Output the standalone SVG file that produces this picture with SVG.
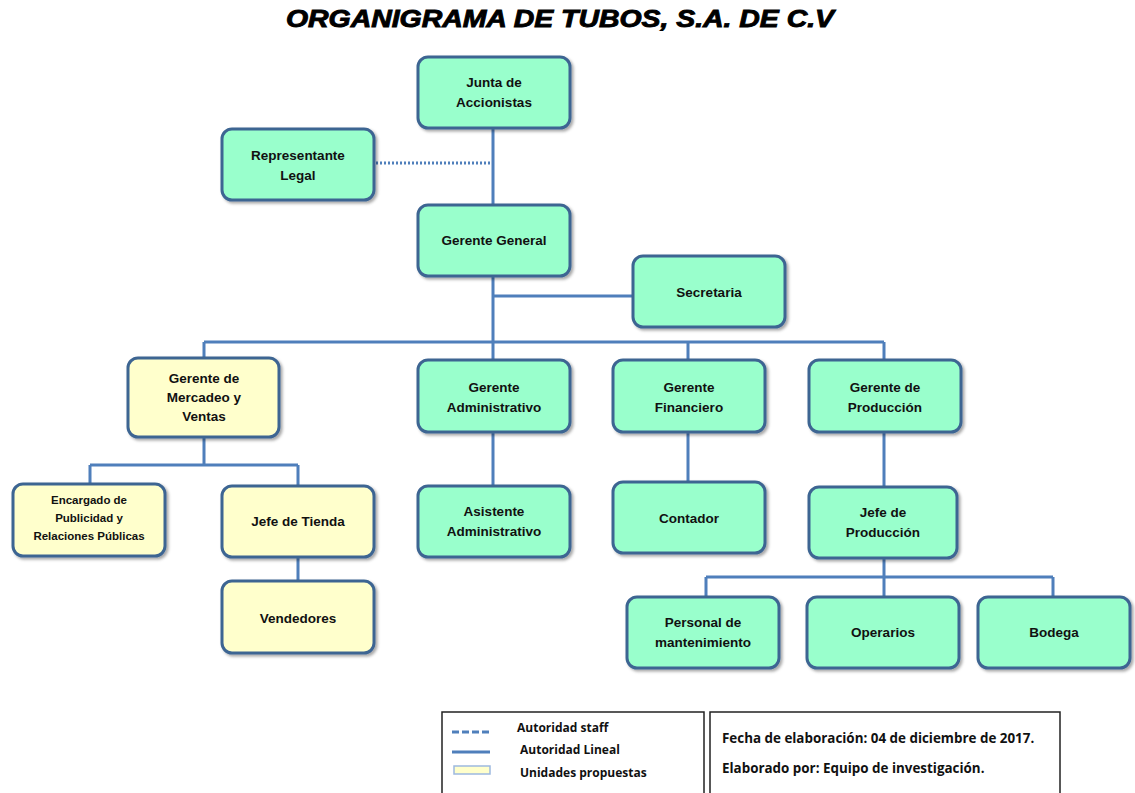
<svg xmlns="http://www.w3.org/2000/svg" width="1135" height="793" viewBox="0 0 1135 793">
<defs>
<filter id="sh" x="-10%" y="-10%" width="130%" height="130%">
<feDropShadow dx="2" dy="2" stdDeviation="1.5" flood-color="#000" flood-opacity="0.35"/>
</filter>
<style>
.n{fill:#99FFCC;stroke:#3D6592;stroke-width:3;filter:url(#sh)}
.y{fill:#FFFFCC;stroke:#3D6592;stroke-width:3;filter:url(#sh)}
.t{font-family:"Liberation Sans",Arial,sans-serif;font-weight:bold;font-size:13.5px;fill:#111;text-anchor:middle}
.s{font-family:"Liberation Sans",Arial,sans-serif;font-weight:bold;font-size:11.5px;fill:#111;text-anchor:middle}
.c{fill:none;stroke:#4F7FBB;stroke-width:3}
.d{fill:none;stroke:#4F7FBB;stroke-width:3;stroke-dasharray:2 2}
.l{font-family:"Open Sans","Liberation Sans",sans-serif;font-weight:bold;font-size:12px;fill:#111}
.f{font-family:"Open Sans","Liberation Sans",sans-serif;font-weight:bold;font-size:13.4px;fill:#111}
.b{fill:#fff;stroke:#222;stroke-width:1.5}
</style>
</defs>
<rect width="1135" height="793" fill="#fff"/>
<text x="560" y="27" font-family="Liberation Sans,Arial,sans-serif" font-weight="bold" font-style="italic" font-size="24" text-anchor="middle" textLength="548" lengthAdjust="spacingAndGlyphs" stroke="#000" stroke-width="0.9">ORGANIGRAMA DE TUBOS, S.A. DE C.V</text>

<g id="connectors">
<path class="c" d="M493 128V205M493 276V342M493 296H633M204 342H884M204 342V358M493 342V360M688 342V360M884 342V360"/>
<path class="d" d="M376 163H493"/>
<path class="c" d="M204 437V465M90 465H298M90 465V484M298 465V486M298 557V581"/>
<path class="c" d="M493 432V486M688 432V482M884 432V487M884 558V577M706 577H1053M706 577V597M884 577V597M1053 577V597"/>
</g>

<g id="junta"><rect class="n" x="418" y="57" width="152" height="71" rx="10"/><text class="t" x="494" y="87">Junta de</text><text class="t" x="494" y="107">Accionistas</text></g>
<g id="representante"><rect class="n" x="222" y="129" width="152" height="71" rx="10"/><text class="t" x="298" y="160">Representante</text><text class="t" x="298" y="180">Legal</text></g>
<g id="gerente-general"><rect class="n" x="418" y="205" width="152" height="71" rx="10"/><text class="t" x="494" y="245">Gerente General</text></g>
<g id="secretaria"><rect class="n" x="633" y="256" width="152" height="71" rx="10"/><text class="t" x="709" y="297">Secretaria</text></g>

<g id="gerente-mercadeo"><rect class="y" x="128" y="358" width="151" height="79" rx="10"/><text class="t" x="204" y="383">Gerente de</text><text class="t" x="204" y="402">Mercadeo y</text><text class="t" x="204" y="421">Ventas</text></g>
<g id="gerente-administrativo"><rect class="n" x="418" y="360" width="152" height="72" rx="10"/><text class="t" x="494" y="392">Gerente</text><text class="t" x="494" y="412">Administrativo</text></g>
<g id="gerente-financiero"><rect class="n" x="613" y="360" width="152" height="72" rx="10"/><text class="t" x="689" y="392">Gerente</text><text class="t" x="689" y="412">Financiero</text></g>
<g id="gerente-produccion"><rect class="n" x="809" y="360" width="152" height="72" rx="10"/><text class="t" x="885" y="392">Gerente de</text><text class="t" x="885" y="412">Producción</text></g>

<g id="encargado"><rect class="y" x="13" y="484" width="152" height="72" rx="10"/><text class="s" x="89" y="504">Encargado de</text><text class="s" x="89" y="522">Publicidad y</text><text class="s" x="89" y="540">Relaciones Públicas</text></g>
<g id="jefe-tienda"><rect class="y" x="222" y="486" width="152" height="71" rx="10"/><text class="t" x="298" y="526">Jefe de Tienda</text></g>
<g id="vendedores"><rect class="y" x="222" y="581" width="152" height="72" rx="10"/><text class="t" x="298" y="623">Vendedores</text></g>
<g id="asistente"><rect class="n" x="418" y="486" width="152" height="71" rx="10"/><text class="t" x="494" y="516">Asistente</text><text class="t" x="494" y="536">Administrativo</text></g>
<g id="contador"><rect class="n" x="613" y="482" width="152" height="71" rx="10"/><text class="t" x="689" y="523">Contador</text></g>
<g id="jefe-produccion"><rect class="n" x="809" y="487" width="148" height="71" rx="10"/><text class="t" x="883" y="517">Jefe de</text><text class="t" x="883" y="537">Producción</text></g>

<g id="personal"><rect class="n" x="627" y="597" width="152" height="71" rx="10"/><text class="t" x="703" y="627">Personal de</text><text class="t" x="703" y="647">mantenimiento</text></g>
<g id="operarios"><rect class="n" x="807" y="597" width="152" height="71" rx="10"/><text class="t" x="883" y="637">Operarios</text></g>
<g id="bodega"><rect class="n" x="978" y="597" width="152" height="71" rx="10"/><text class="t" x="1054" y="637">Bodega</text></g>

<g id="legend">
<rect class="b" x="442" y="712" width="262" height="90"/>
<path d="M452 732H490" stroke="#4F7FBB" stroke-width="3" stroke-dasharray="7 3"/>
<text class="l" x="517" y="732">Autoridad staff</text>
<path d="M452 752H490" stroke="#4F7FBB" stroke-width="3"/>
<text class="l" x="520" y="754">Autoridad Lineal</text>
<rect x="454" y="766" width="36" height="8" fill="#FFFFCC" stroke="#9DB9E0" stroke-width="1.5"/>
<text class="l" x="520" y="777">Unidades propuestas</text>
<rect class="b" x="710" y="712" width="350" height="90"/>
<text class="f" x="722" y="743">Fecha de elaboración: 04 de diciembre de 2017.</text>
<text class="f" x="722" y="773">Elaborado por: Equipo de investigación.</text>
</g>
</svg>
